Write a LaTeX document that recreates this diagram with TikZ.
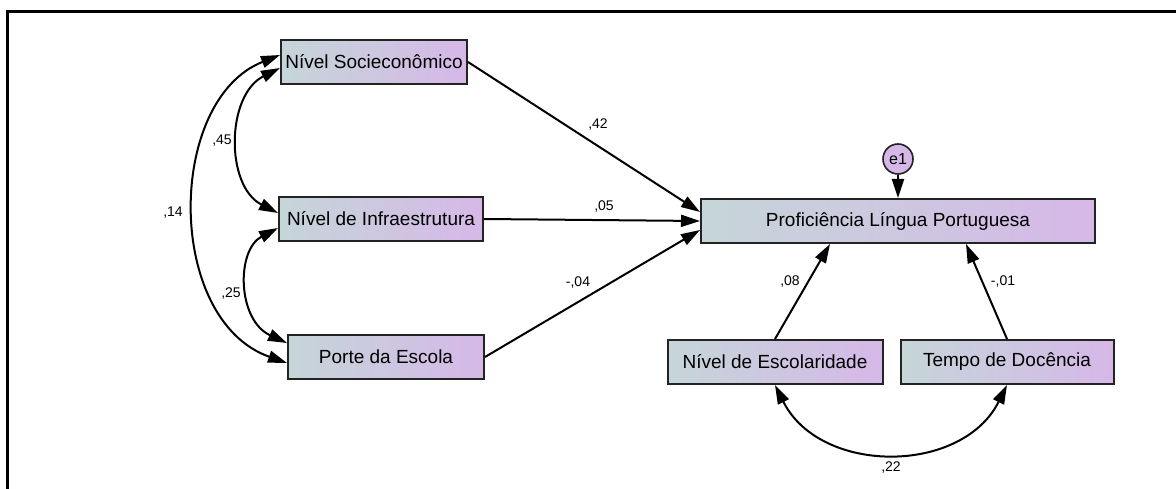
\documentclass[tikz,border=0pt]{standalone}
\usepackage{fontspec}
\setmainfont{Liberation Sans}
\usetikzlibrary{arrows.meta}
\definecolor{azulcinza}{RGB}{197,214,216}
\definecolor{lilas}{RGB}{214,184,232}
\definecolor{borda}{RGB}{35,35,35}
\begin{document}
\begin{tikzpicture}[x=1pt, y=-1pt,
                caixa/.style={shape=rectangle, draw=borda, line width=2pt, left color=azulcinza, right color=lilas,
                    minimum height=44pt, inner sep=2pt, font=\fontsize{19}{22}\selectfont},
                erro/.style={shape=circle, draw=borda, line width=1.6pt, fill=lilas, minimum size=30pt, inner sep=0pt,
                    font=\fontsize{16}{18}\selectfont},
                peso/.style={inner sep=1pt, font=\fontsize{14}{16}\selectfont},
                seta/.style={line width=2pt, -{Triangle[length=19pt, width=12pt]}},
                cov/.style={line width=2pt, {Triangle[length=19pt, width=12pt]}-{Triangle[length=19pt, width=12pt]}},
            ]
            \useasboundingbox (0, 0) rectangle (1176, 489);
            \draw[line width=3pt] (7, 489) -- (7, 12) -- (1176, 12);

            \node[caixa, minimum width=186pt] (socio) at (374, 62) {Nível Socieconômico};
            \node[caixa, minimum width=204pt] (infra) at (381, 219) {Nível de Infraestrutura};
            \node[caixa, minimum width=196pt] (porte) at (386, 357) {Porte da Escola};
            \node[caixa, minimum width=394pt] (prof) at (898, 221) {Proficiência Língua Portuguesa};
            \node[caixa, minimum width=215pt] (escol) at (775, 362) {Nível de Escolaridade};
            \node[caixa, minimum width=213pt] (docencia) at (1007, 362) {Tempo de Docência};
            \node[erro] (e1) at (898, 159) {e1};

            \draw[seta] (socio.east) -- ([yshift=9pt]prof.west);
            \draw[seta] (infra.east) -- (prof.west);
            \draw[seta] (porte.east) -- ([yshift=-9pt]prof.west);
            \draw[seta] (escol.north) -- ([xshift=-68pt]prof.south);
            \draw[seta] (docencia.north) -- ([xshift=68pt]prof.south);
            \draw[seta] (e1.south) -- (prof.north);

            \draw[cov] ([yshift=-6pt]socio.west) .. controls +(-54, 27) and +(-53, -27) .. ([yshift=6pt]infra.west);
            \draw[cov] ([yshift=-9pt]infra.west) .. controls +(-42, 22) and +(-50, -23) .. ([yshift=14pt]porte.west);
            \draw[cov] ([yshift=7pt]socio.west) .. controls +(-114, 45) and +(-122, -43) .. ([yshift=-6pt]porte.west);
            \draw[cov] (escol.south) .. controls +(45, 90) and +(-45, 90) .. (docencia.south);

            \node[peso] (p42) at (598, 125) {,42};
            \node[peso] (p05) at (604, 207) {,05};
            \node[peso] (p04) at (578, 283) {-,04};
            \node[peso] (p45) at (222, 141) {,45};
            \node[peso] (p14) at (173, 213) {,14};
            \node[peso] (p25) at (231, 294) {,25};
            \node[peso] (p08) at (790, 282) {,08};
            \node[peso] (p01) at (1003, 282) {-,01};
            \node[peso] (p22) at (891, 468) {,22};
        \end{tikzpicture}
\end{document}
